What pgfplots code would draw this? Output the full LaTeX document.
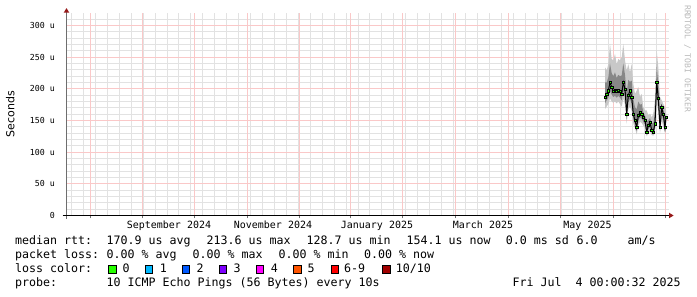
\documentclass[border=0pt]{standalone}
\usepackage{pgfplots}
\pgfplotsset{compat=1.18}
\usepackage{pgfplotstable}
\usepgfplotslibrary{fillbetween}
\usepackage{fontspec}
\setmainfont{DejaVu Sans}
\newfontfamily\monofont{DejaVu Sans Mono}
\definecolor{mgrid}{RGB}{250,200,200}
\definecolor{ngrid}{RGB}{226,226,226}
\definecolor{arrowred}{RGB}{150,25,25}
\definecolor{yaxisgray}{RGB}{110,110,110}
\definecolor{loss0}{RGB}{38,255,0}
\definecolor{loss1}{RGB}{0,184,255}
\definecolor{loss2}{RGB}{0,89,255}
\definecolor{loss3}{RGB}{126,0,255}
\definecolor{loss4}{RGB}{255,0,255}
\definecolor{loss5}{RGB}{255,85,0}
\definecolor{loss6}{RGB}{255,0,0}
\definecolor{loss10}{RGB}{161,0,0}
\definecolor{smokeA}{RGB}{200,200,200}
\definecolor{smokeB}{RGB}{135,135,135}
\definecolor{wmark}{RGB}{185,185,185}

\pgfplotstableread{
x     med hiA loA hiB loB
605.0 187 234 168 210 177
606.7 192 229 172 210 182
608.3 197 239 176 218 186
610.0 210 271 185 240 197
611.7 203 247 180 225 191
613.3 196 245 178 220 187
615.0 198 255 180 226 189
616.7 196 239 177 217 186
618.3 198 247 180 222 189
620.0 196 245 176 220 186
621.7 192 250 172 221 182
623.3 210 271 185 240 197
625.0 200 245 175 222 187
626.7 160 229 145 194 152
628.3 190 239 168 214 179
630.0 197 226 172 211 184
631.7 187 239 165 213 176
633.3 160 208 145 184 152
635.0 150 192 138 171 144
636.7 139 197 128 168 133
638.3 158 203 142 180 150
640.0 163 187 148 175 155
641.7 160 192 146 176 153
643.3 155 171 142 163 148
645.0 150 166 138 158 144
646.7 132 166 125 149 128
648.3 142 158 130 150 136
650.0 147 161 133 154 140
651.7 135 155 127 145 131
653.3 132 161 126 146 129
655.0 145 182 130 163 137
656.7 210 261 180 235 195
658.3 185 234 165 209 175
660.0 139 187 130 163 134
661.7 171 182 150 176 160
663.3 160 176 140 168 150
665.0 139 171 130 155 134
666.0 155 166 138 160 146
}\rtt

\newcommand{\legfont}{\monofont\fontsize{11.63}{14}\selectfont}

\begin{document}
\begin{tikzpicture}
\path (0pt,0pt) rectangle (697pt,297pt);
\begin{axis}[
  at={(66.5pt,81.5pt)}, anchor=south west,
  scale only axis, width=602pt, height=202.67pt,
  xmin=66.5, xmax=668.5, ymin=0, ymax=320,
  axis line style={draw=none},
  major tick length=0pt, minor tick length=0pt,
  xtick pos=bottom, ytick pos=left,
  xtick={169,273,377,483,587.5},
  xticklabels={September 2024,November 2024,January 2025,March 2025,May 2025},
  minor xtick={71.5,83.5,95.5,107.5,119.5,131.5,143.5,155.5,167.5,178.5,190.5,202.5,214.5,226.5,238.5,250.5,262.5,274.5,286.5,298.5,310.5,322.5,334.5,346.5,358.5,369.5,381.5,393.5,405.5,417.5,429.5,441.5,453.5,465.5,477.5,489.5,501.5,513.5,525.5,537.5,549.5,561.5,572.5,584.5,596.5,608.5,620.5,632.5,644.5,656.5},
  extra x ticks={90.5,142.5,194.5,247.5,299.5,350.5,402.5,455.5,508.5,560.5,613.5,665.5},
  extra x tick labels={},
  extra x tick style={xmajorgrids=true, major tick length=3pt, tick align=outside, major tick style={draw=black!55, line width=1pt}},
  xmajorgrids=false, xminorgrids=true,
  % grid rows snapped to whole pixels, as rrdtool draws them
  ytick={0,50.53,99.47,150,200.53,249.47,300},
  yticklabels={0\hspace{8pt},50 u,100 u,150 u,200 u,250 u,300 u},
  minor ytick={9.47,20.53,30,39.47,60,69.47,80.53,90,110.53,120,129.47,140.53,159.47,170.53,180,189.47,210,219.47,230.53,240,260.53,270,279.47,290.53,309.47},
  ymajorgrids=true, yminorgrids=true,
  major grid style={draw=mgrid, line width=1pt},
  minor grid style={draw=ngrid, line width=1pt},
  xticklabel style={font=\monofont\fontsize{9.97}{12}\selectfont, anchor=base, inner sep=0pt, yshift=-13pt},
  yticklabel style={font=\monofont\fontsize{8.3}{10}\selectfont, anchor=east, inner sep=0pt, xshift=-11.5pt},
  ylabel={Seconds},
  every axis y label/.style={at={(axis description cs:-0.0934,0.5)}, rotate=90, anchor=center, font=\fontsize{11}{13}\selectfont},
]
\addplot[name path=hiA, draw=none] table[x=x, y=hiA] {\rtt};
\addplot[name path=loA, draw=none] table[x=x, y=loA] {\rtt};
\addplot[smokeA] fill between[of=hiA and loA];
\addplot[name path=hiB, draw=none] table[x=x, y=hiB] {\rtt};
\addplot[name path=loB, draw=none] table[x=x, y=loB] {\rtt};
\addplot[smokeB] fill between[of=hiB and loB];
\addplot[black, line width=1pt] table[x=x, y=med] {\rtt};
\addplot[only marks, mark=square*, mark size=1.1pt, mark options={draw=none, fill=loss0}] table[x=x, y=med] {\rtt};
\end{axis}
% axes lines and arrows
\draw[yaxisgray, line width=1pt] (66.5pt,78pt) -- (66.5pt,285pt);
\fill[arrowred] (63.7pt,284.3pt) -- (69.3pt,284.3pt) -- (66.5pt,288.9pt) -- cycle;
\draw[black, line width=1pt] (62.5pt,81.5pt) -- (669.5pt,81.5pt);
\fill[arrowred] (669pt,78.7pt) -- (669pt,84.3pt) -- (673.6pt,81.5pt) -- cycle;
% watermark
\node[rotate=-90, anchor=west, inner sep=0pt, text=wmark, font=\monofont\fontsize{8.1}{10}\selectfont] at (687.5pt,292pt) {RRDTOOL / TOBI OETIKER};
% legend rows
\begin{scope}[every node/.style={anchor=base west, inner sep=0pt, font=\legfont}]
\node at (15pt,52pt) {median rtt:};
\node at (106.3pt,52pt) {170.9 us avg};
\node at (206.3pt,52pt) {213.6 us max};
\node at (306.3pt,52pt) {128.7 us min};
\node at (406.3pt,52pt) {154.1 us now};
\node at (505.7pt,52pt) {0.0 ms sd};
\node at (576.3pt,52pt) {6.0};
\node at (627.3pt,52pt) {am/s};
\node at (15pt,38pt) {packet loss:};
\node at (106.3pt,38pt) {0.00 \% avg};
\node at (192.3pt,38pt) {0.00 \% max};
\node at (278.3pt,38pt) {0.00 \% min};
\node at (364pt,38pt) {0.00 \% now};
\node at (15pt,24pt) {loss color:};
\node at (122.3pt,24pt) {0};
\node at (159.7pt,24pt) {1};
\node at (196.3pt,24pt) {2};
\node at (233.3pt,24pt) {3};
\node at (270.7pt,24pt) {4};
\node at (307.3pt,24pt) {5};
\node at (344pt,24pt) {6-9};
\node at (395.7pt,24pt) {10/10};
\node at (15pt,10pt) {probe:};
\node at (106.3pt,10pt) {10 ICMP Echo Pings (56 Bytes) every 10s};
\node at (512.3pt,10pt) {Fri Jul\ \ 4 00:00:32 2025};
\end{scope}
% loss colour boxes
\foreach \xx/\cc in {108.3/loss0,145/loss1,181.7/loss2,219/loss3,256/loss4,293.3/loss5,330.7/loss6,382.3/loss10}{
  \filldraw[fill=\cc, draw=black, line width=0.9pt] (\xx pt+0.45pt,23.75pt) rectangle (\xx pt+7.9pt,31.9pt);
}
\end{tikzpicture}
\end{document}
